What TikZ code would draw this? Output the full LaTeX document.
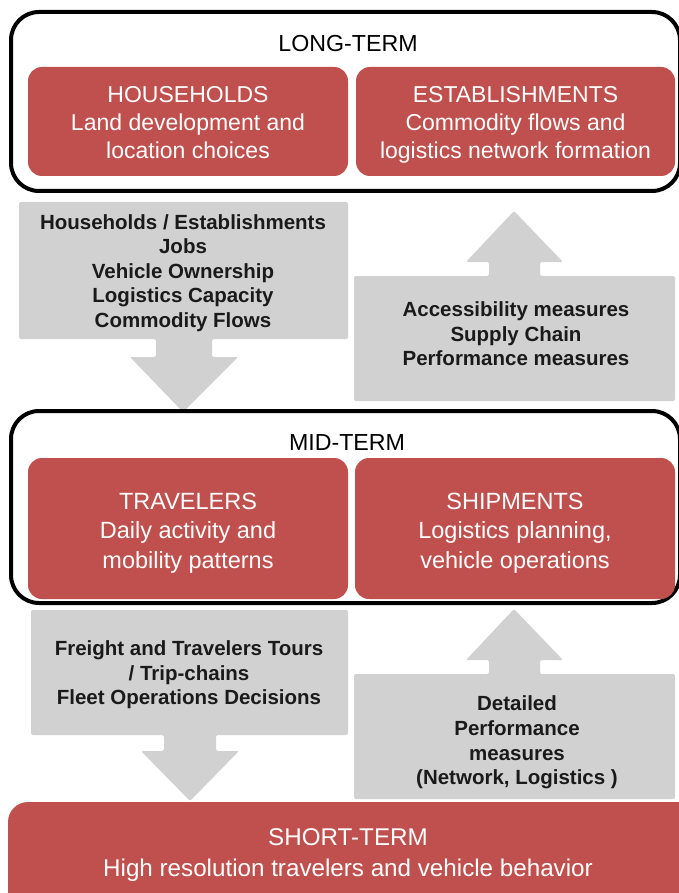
\documentclass[tikz,border=0pt]{standalone}
\usepackage{fontspec}
\setmainfont{Liberation Sans}
\definecolor{boxred}{HTML}{C0504D}
\definecolor{arrowgray}{HTML}{D0D1D0}
\definecolor{txtdark}{HTML}{1A1A1A}
\begin{document}
\begin{tikzpicture}[x=1pt,y=-1pt,
  redbox/.style={fill=boxred, rounded corners=14pt, text=white, align=center, inner sep=0pt,
    font=\fontsize{23}{28}\selectfont},
  boxtext/.style={align=center, text=white, inner sep=0pt},
  termbox/.style={draw=black, line width=4pt, rounded corners=28pt, inner sep=0pt},
  blockarrow/.style={fill=arrowgray, rounded corners=2pt},
  arrowtext/.style={align=center, text=txtdark, inner sep=0pt,
    font=\bfseries\fontsize{20.5}{24.6}\selectfont},
  termlabel/.style={inner sep=0pt, text=black, font=\fontsize{23.2}{27}\selectfont}]
\useasboundingbox (0,0) rectangle (679,893);
\clip (0,0) rectangle (679,893);

% block arrows (drawn first, behind the term boxes)
\path[blockarrow] (19,202) -- (348,202) -- (348,339) -- (212,339) -- (212,357) -- (238,357)
  -- (183,412) -- (130,357) -- (156,357) -- (156,339) -- (19,339) -- cycle;
\path[blockarrow] (354,276) -- (489,276) -- (489,262) -- (466,262) -- (514,211) -- (563,262)
  -- (540,262) -- (540,276) -- (675,276) -- (675,401) -- (354,401) -- cycle;
\path[blockarrow] (31,610) -- (348,610) -- (348,735) -- (216,735) -- (216,751) -- (239,751)
  -- (190,801) -- (141,751) -- (164,751) -- (164,735) -- (31,735) -- cycle;
\path[blockarrow] (354,674) -- (489,674) -- (489,660) -- (466,660) -- (514,609) -- (563,660)
  -- (540,660) -- (540,674) -- (675,674) -- (675,799) -- (354,799) -- cycle;

% arrow texts
\node[arrowtext] (down1) at (183,273) {Households / Establishments\\Jobs\\Vehicle Ownership\\Logistics Capacity\\Commodity Flows};
\node[arrowtext] (up1) at (516,334) {Accessibility measures\\Supply Chain\\Performance measures};
\node[arrowtext] (down2) at (189,675) {Freight and Travelers Tours\\/ Trip-chains\\Fleet Operations Decisions};
\node[arrowtext] (up2) at (517,742.5) {Detailed\\Performance\\measures\\(Network, Logistics )};

% long-term
\node[termbox, minimum width=669pt, minimum height=179pt] (long) at (345.5,101.5) {};
\node[termlabel] (longlbl) at (348,44) {LONG-TERM};
\node[redbox, minimum width=320pt, minimum height=109pt] (hh) at (188,121.5) {};
\node[boxtext, font=\fontsize{23}{28}\selectfont] (hhtext) at (188,125)
  {\strut HOUSEHOLDS\\Land development and\\location choices\strut};
\node[redbox, minimum width=319pt, minimum height=109pt] (est) at (515.5,121.5) {};
\node[boxtext, font=\fontsize{23}{28}\selectfont] (esttext) at (515.5,125)
  {\strut ESTABLISHMENTS\\Commodity flows and\\logistics network formation\strut};

% mid-term
\node[termbox, minimum width=669pt, minimum height=192pt] (mid) at (345.5,507) {};
\node[termlabel] (midlbl) at (347,443) {MID-TERM};
\node[redbox, minimum width=320pt, minimum height=141pt] (trav) at (188,528.5) {};
\node[boxtext, font=\fontsize{23.5}{29.5}\selectfont] (travtext) at (188,533)
  {\strut TRAVELERS\\Daily activity and\\mobility patterns\strut};
\node[redbox, minimum width=320pt, minimum height=141pt] (ship) at (515,528.5) {};
\node[boxtext, font=\fontsize{23.5}{29.5}\selectfont] (shiptext) at (515,533)
  {\strut SHIPMENTS\\Logistics planning,\\vehicle operations\strut};

% short-term
\node[redbox, rounded corners=20pt, minimum width=690pt, minimum height=120pt] (short) at (353,862) {};
\node[boxtext, font=\fontsize{24.2}{31}\selectfont] (shortlbl) at (348,855)
  {\strut SHORT-TERM\\High resolution travelers and vehicle behavior\strut};
\end{tikzpicture}
\end{document}
